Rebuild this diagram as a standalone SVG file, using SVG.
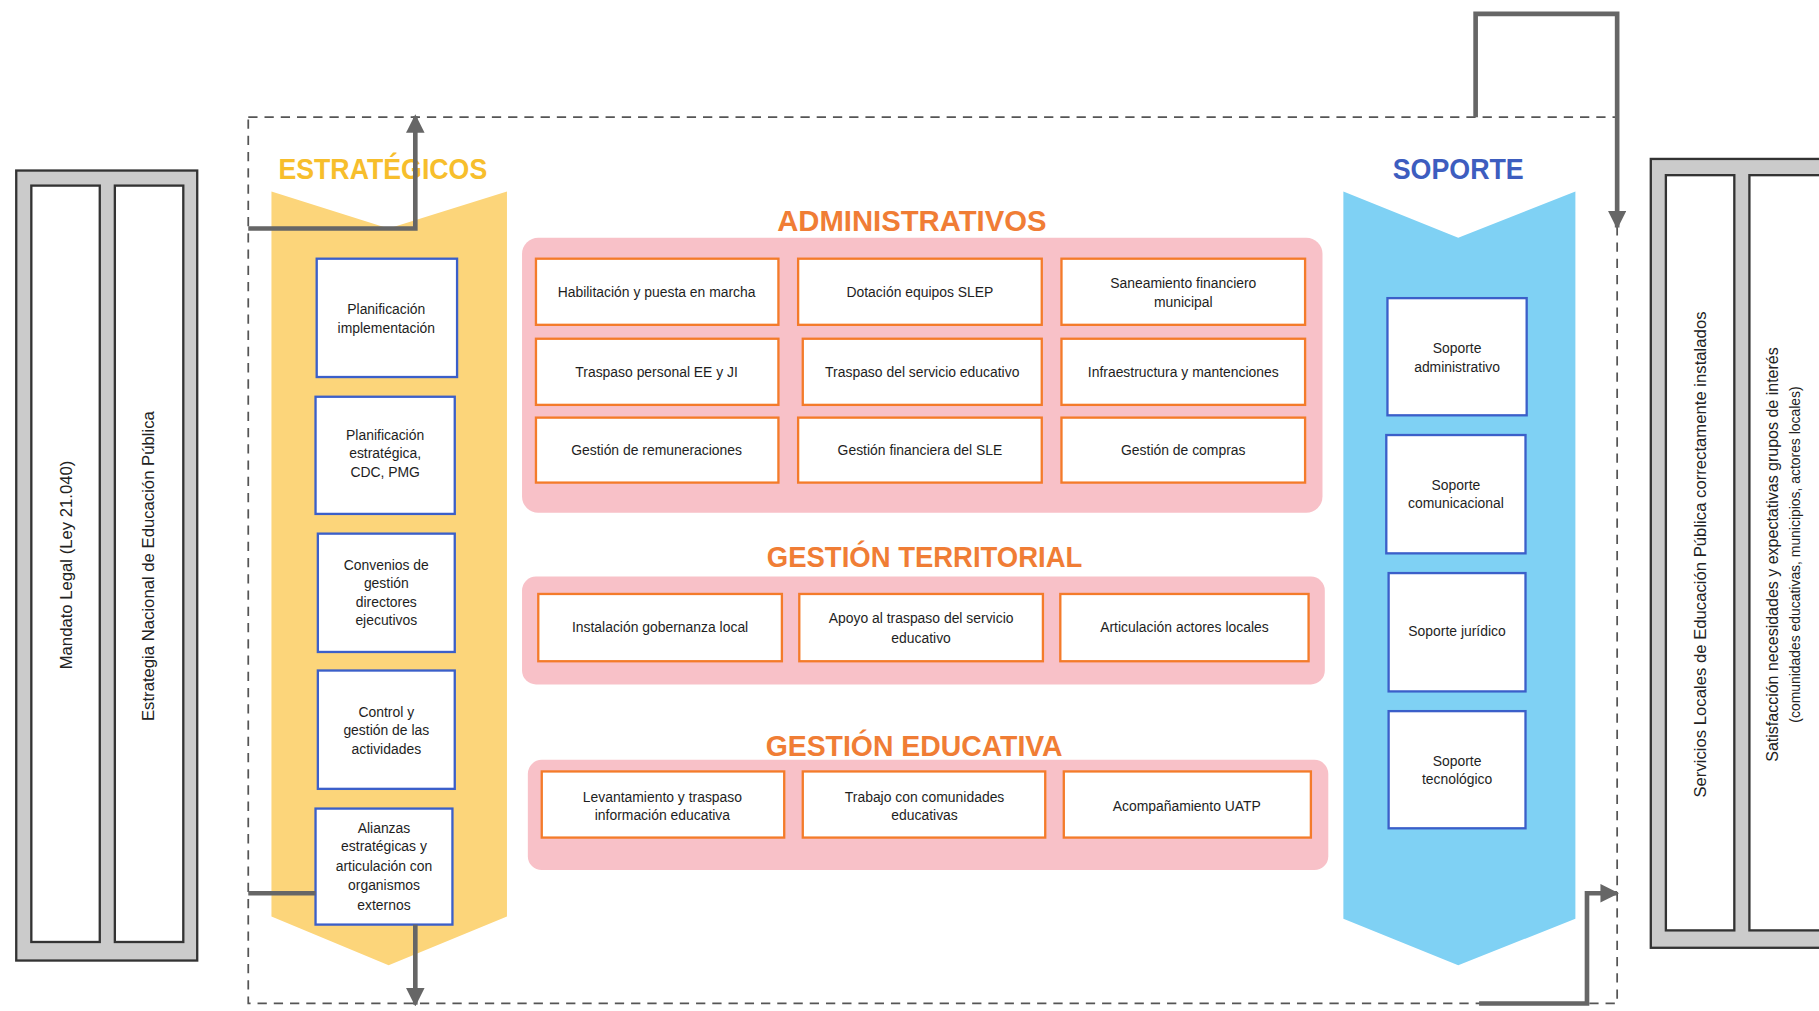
<svg xmlns="http://www.w3.org/2000/svg" width="1819" height="1011" viewBox="0 0 1819 1011">
<defs>
<style>
.frame{fill:#cbcbcb;stroke:#333;stroke-width:2}
.col{fill:#fff;stroke:#333;stroke-width:2}
.vt{font-family:"Liberation Sans",Arial,sans-serif;font-size:14.4px;fill:#222;text-anchor:middle}
.pink{fill:#f8c1c8}
.ob{fill:#fff;stroke:#f47b2a;stroke-width:2}
.bb{fill:#fff;stroke:#3b5fc9;stroke-width:2}
.t{font-family:"Liberation Sans",Arial,sans-serif;font-size:12px;fill:#1e1e1e;text-anchor:middle}
.h{font-family:"Liberation Sans",Arial,sans-serif;font-weight:bold;font-size:25px;text-anchor:middle}
.dash{fill:none;stroke:#555;stroke-width:1.5;stroke-dasharray:8 6}
.conn{fill:none;stroke:#666;stroke-width:4}
</style>
<marker id="ah" viewBox="0 0 10 10" refX="9" refY="5" markerWidth="4" markerHeight="4" orient="auto" markerUnits="strokeWidth">
<path d="M0,0 L10,5 L0,10 Z" fill="#666"/>
</marker>
</defs>
<rect width="1819" height="1011" fill="#fff"/>
<g transform="scale(1.16008)">
<g id="inputs">
<rect class="frame" x="14" y="147" width="156" height="681"/>
<rect class="col" x="27" y="160" width="59" height="652"/>
<rect class="col" x="99" y="160" width="59" height="652"/>
<text class="vt" transform="translate(62,487) rotate(-90)">Mandato Legal (Ley 21.040)</text>
<text class="vt" transform="translate(133,488) rotate(-90)">Estrategia Nacional de Educación Pública</text>
</g>
<g id="outputs">
<rect class="frame" x="1423" y="137" width="170" height="680"/>
<rect class="col" x="1436" y="151" width="59" height="651"/>
<rect class="col" x="1508" y="151" width="75" height="651"/>
<text class="vt" transform="translate(1471,478) rotate(-90)">Servicios Locales de Educación Pública correctamente instalados</text>
<text class="vt" style="font-size:13.8px" transform="translate(1533,478) rotate(-90)">Satisfacción necesidades y expectativas grupos de interés</text>
<text class="vt" style="font-size:12px" transform="translate(1552,478) rotate(-90)">(comunidades educativas, municipios, actores locales)</text>
</g>
<rect id="boundary" class="dash" x="214" y="101" width="1180" height="764"/>
<g id="estrategicos">
<path d="M234,165 L335,197 L437,165 L437,790 L335,832 L234,790 Z" fill="#fcd57a"/>
<text class="h" x="330" y="154" fill="#f7be2c" textLength="180" lengthAdjust="spacingAndGlyphs">ESTRATÉGICOS</text>
</g>
<g id="soporte">
<path d="M1158,165 L1257,205 L1358,165 L1358,792 L1257,832 L1158,792 Z" fill="#7fd1f4"/>
<text class="h" x="1257" y="154" fill="#3d5dbf" textLength="113" lengthAdjust="spacingAndGlyphs">SOPORTE</text>
</g>
<g id="administrativos">
<rect class="pink" x="450" y="205" width="690" height="237" rx="14"/>
<text class="h" x="786" y="199" fill="#f07d35" textLength="232" lengthAdjust="spacingAndGlyphs">ADMINISTRATIVOS</text>
</g>
<g id="territorial">
<rect class="pink" x="450" y="497" width="692" height="93" rx="12"/>
<text class="h" x="797" y="489" fill="#f07d35" textLength="272" lengthAdjust="spacingAndGlyphs">GESTIÓN TERRITORIAL</text>
</g>
<g id="educativa">
<rect class="pink" x="455" y="655" width="690" height="95" rx="12"/>
<text class="h" x="788" y="652" fill="#f07d35" textLength="256" lengthAdjust="spacingAndGlyphs">GESTIÓN EDUCATIVA</text>
</g>
<g id="a1"><rect class="ob" x="462" y="223" width="209" height="57"/><text class="t" x="566" y="256">Habilitación y puesta en marcha</text></g>
<g id="a2"><rect class="ob" x="688" y="223" width="210" height="57"/><text class="t" x="793" y="256">Dotación equipos SLEP</text></g>
<g id="a3"><rect class="ob" x="915" y="223" width="210" height="57"/><text class="t" x="1020" y="248">Saneamiento financiero</text><text class="t" x="1020" y="265">municipal</text></g>
<g id="a4"><rect class="ob" x="462" y="292" width="209" height="57"/><text class="t" x="566" y="325">Traspaso personal EE y JI</text></g>
<g id="a5"><rect class="ob" x="692" y="292" width="206" height="57"/><text class="t" x="795" y="325">Traspaso del servicio educativo</text></g>
<g id="a6"><rect class="ob" x="915" y="292" width="210" height="57"/><text class="t" x="1020" y="325">Infraestructura y mantenciones</text></g>
<g id="a7"><rect class="ob" x="462" y="360" width="209" height="56"/><text class="t" x="566" y="392">Gestión de remuneraciones</text></g>
<g id="a8"><rect class="ob" x="688" y="360" width="210" height="56"/><text class="t" x="793" y="392">Gestión financiera del SLE</text></g>
<g id="a9"><rect class="ob" x="915" y="360" width="210" height="56"/><text class="t" x="1020" y="392">Gestión de compras</text></g>
<g id="t1"><rect class="ob" x="464" y="512" width="210" height="58"/><text class="t" x="569" y="545">Instalación gobernanza local</text></g>
<g id="t2"><rect class="ob" x="689" y="512" width="210" height="58"/><text class="t" x="794" y="537">Apoyo al traspaso del servicio</text><text class="t" x="794" y="554">educativo</text></g>
<g id="t3"><rect class="ob" x="914" y="512" width="214" height="58"/><text class="t" x="1021" y="545">Articulación actores locales</text></g>
<g id="e1"><rect class="ob" x="467" y="665" width="209" height="57"/><text class="t" x="571" y="691">Levantamiento y traspaso</text><text class="t" x="571" y="707">información educativa</text></g>
<g id="e2"><rect class="ob" x="692" y="665" width="209" height="57"/><text class="t" x="797" y="691">Trabajo con comunidades</text><text class="t" x="797" y="707">educativas</text></g>
<g id="e3"><rect class="ob" x="917" y="665" width="213" height="57"/><text class="t" x="1023" y="699">Acompañamiento UATP</text></g>
<g id="s1"><rect class="bb" x="273" y="223" width="121" height="102"/><text class="t" x="333" y="271">Planificación</text><text class="t" x="333" y="287">implementación</text></g>
<g id="s2"><rect class="bb" x="272" y="342" width="120" height="101"/><text class="t" x="332" y="379">Planificación</text><text class="t" x="332" y="395">estratégica,</text><text class="t" x="332" y="411">CDC, PMG</text></g>
<g id="s3"><rect class="bb" x="274" y="460" width="118" height="102"/><text class="t" x="333" y="491">Convenios de</text><text class="t" x="333" y="507">gestión</text><text class="t" x="333" y="523">directores</text><text class="t" x="333" y="539">ejecutivos</text></g>
<g id="s4"><rect class="bb" x="274" y="578" width="118" height="102"/><text class="t" x="333" y="618">Control y</text><text class="t" x="333" y="634">gestión de las</text><text class="t" x="333" y="650">actividades</text></g>
<g id="s5"><rect class="bb" x="272" y="697" width="118" height="100"/><text class="t" x="331" y="718">Alianzas</text><text class="t" x="331" y="734">estratégicas y</text><text class="t" x="331" y="751">articulación con</text><text class="t" x="331" y="767">organismos</text><text class="t" x="331" y="784">externos</text></g>
<g id="p1"><rect class="bb" x="1196" y="257" width="120" height="101"/><text class="t" x="1256" y="304">Soporte</text><text class="t" x="1256" y="321">administrativo</text></g>
<g id="p2"><rect class="bb" x="1195" y="375" width="120" height="102"/><text class="t" x="1255" y="422">Soporte</text><text class="t" x="1255" y="438">comunicacional</text></g>
<g id="p3"><rect class="bb" x="1197" y="494" width="118" height="102"/><text class="t" x="1256" y="548">Soporte jurídico</text></g>
<g id="p4"><rect class="bb" x="1197" y="613" width="118" height="101"/><text class="t" x="1256" y="660">Soporte</text><text class="t" x="1256" y="676">tecnológico</text></g>
<g id="connectors">
<path class="conn" d="M214,197 H358 V100" marker-end="url(#ah)"/>
<path class="conn" d="M214,770 H272"/>
<path class="conn" d="M358,797 V866" marker-end="url(#ah)"/>
<path class="conn" d="M1272,101 V12 H1394 V196" marker-end="url(#ah)"/>
<path class="conn" d="M1275,865 H1368 V770 H1394" marker-end="url(#ah)"/>
</g>
</g>
</svg>
